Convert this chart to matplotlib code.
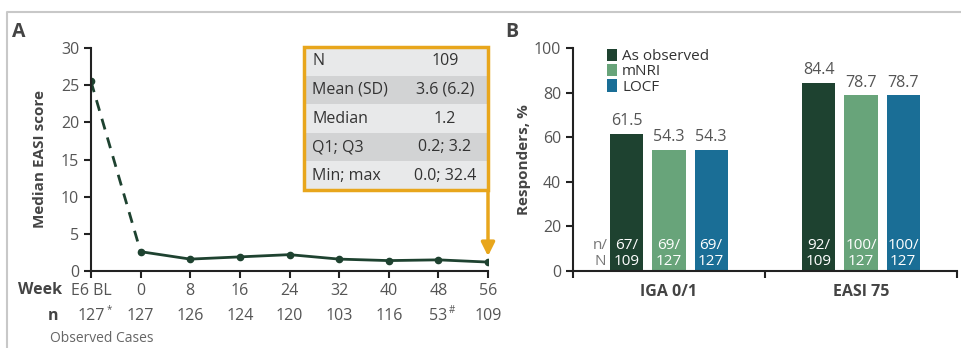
import matplotlib
matplotlib.use("Agg")
import matplotlib.pyplot as plt
from matplotlib.lines import Line2D
from matplotlib.patches import Rectangle
import numpy as np

plt.rcParams['font.family'] = ['Open Sans', 'DejaVu Sans']

# panel A data
weeks = ["E6 BL", "0", "8", "16", "24", "32", "40", "48", "56"]
n_obs = ["127", "127", "126", "124", "120", "103", "116", "53", "109"]
n_marks = ["*", "", "", "", "", "", "", "#", ""]
median_easi = [25.5, 2.6, 1.6, 1.9, 2.2, 1.6, 1.4, 1.5, 1.2]
stat_names = ["N", "Mean (SD)", "Median", "Q1; Q3", "Min; max"]
stat_vals = ["109", "3.6 (6.2)", "1.2", "0.2; 3.2", "0.0; 32.4"]

# panel B data
endpoints = ["IGA 0/1", "EASI 75"]
methods = ["As observed", "mNRI", "LOCF"]
responders = [[61.5, 54.3, 54.3], [84.4, 78.7, 78.7]]
n_resp = [["67", "69", "69"], ["92", "100", "100"]]
n_total = [["109", "127", "127"], ["109", "127", "127"]]

dark = "#1E4230"
cols = ["#1E4230", "#68A47A", "#1A6E96"]
orange = "#E8A61C"
gray = "#555555"
lab = "#444444"

fig = plt.figure(figsize=(9.62, 3.48), dpi=100)

# outer border
fig.add_artist(Line2D([7/962, 7/962, 1.0], [0.0, 1 - 12/348, 1 - 12/348],
                      transform=fig.transFigure, color="#C8C8C8", lw=1.5))

fig.text(12/962, 1 - 32/348, "A", fontsize=14, fontweight="bold", color=lab, va="center")
fig.text(505/962, 1 - 32/348, "B", fontsize=14, fontweight="bold", color=lab, va="center")

# ---- panel A
ax = fig.add_axes([91/962, 1 - 271/348, 397/962, 223/348])
x = np.arange(len(weeks))
ax.plot(x[:2], median_easi[:2], color=dark, lw=2, ls=(0, (4, 3)))
ax.plot(x[1:], median_easi[1:], color=dark, lw=2)
ax.plot(x, median_easi, "o", color=dark, ms=4.5)
ax.set_xlim(0, 8)
ax.set_ylim(0, 30)
ax.set_yticks(range(0, 31, 5))
ax.set_xticks(x)
ax.set_xticklabels(weeks)
for s in ["top", "right"]:
    ax.spines[s].set_visible(False)
for s in ["left", "bottom"]:
    ax.spines[s].set_linewidth(1.5)
    ax.spines[s].set_color("#222222")
ax.tick_params(labelsize=11.5, colors="#222222", labelcolor=gray, length=5, width=1.5)
ax.set_ylabel("Median EASI score", fontsize=11, fontweight="bold", color=lab)
ax.yaxis.set_label_coords(-0.11, 0.5)

trans = ax.get_xaxis_transform()
ax.text(-0.073, -0.085, "Week", transform=ax.transAxes, fontsize=11.5, fontweight="bold",
        color=lab, ha="right", va="center")
ax.text(-0.083, -0.2, "n", transform=ax.transAxes, fontsize=11.5, fontweight="bold",
        color=lab, ha="right", va="center")
for i, (nv, mk) in enumerate(zip(n_obs, n_marks)):
    ax.text(i, -0.2, nv, transform=trans, fontsize=11.5, color=gray, ha="center", va="center",
            clip_on=False)
    if mk:
        ax.annotate(mk, (i, -0.2), xycoords=trans, xytext=(len(nv) * 3.3 + 1, 4),
                    textcoords="offset points", fontsize=7, color=gray, ha="left", va="center")
fig.text(50/962, 1 - 338/348, "Observed Cases", fontsize=10, color="#666666", va="center")

# inset statistics box
bx0, bx1, by0, by1 = 304/962, 488/962, 1 - 190/348, 1 - 47/348
rh = (by1 - by0) / len(stat_names)
for i, (nm, vl) in enumerate(zip(stat_names, stat_vals)):
    yb = by1 - (i + 1) * rh
    fig.add_artist(Rectangle((bx0, yb), bx1 - bx0, rh, transform=fig.transFigure,
                             facecolor="#E8E9EA" if i % 2 == 0 else "#D2D3D4", edgecolor="none"))
    fig.text(bx0 + 8/962, yb + rh / 2, nm, fontsize=11.5, color="#333333", va="center")
    fig.text(445/962, yb + rh / 2, vl, fontsize=11.5, color="#333333", va="center", ha="center")
fig.add_artist(Rectangle((bx0, by0), bx1 - bx0, by1 - by0, transform=fig.transFigure,
                         facecolor="none", edgecolor=orange, lw=2.5))
ax.annotate("", xy=(8, median_easi[-1] + 0.8), xycoords="data",
            xytext=(bx1, by0), textcoords="figure fraction",
            arrowprops=dict(arrowstyle="-|>,head_length=0.8,head_width=0.4", color=orange,
                            lw=2.5, shrinkA=0, shrinkB=0))

# ---- panel B
bx = fig.add_axes([573/962, 1 - 271/348, 384/962, 223/348])
w = 0.172
off = 0.219
for j, m in enumerate(methods):
    xs = np.arange(len(endpoints)) + (j - 1) * off
    vals = [responders[g][j] for g in range(len(endpoints))]
    bx.bar(xs, vals, width=w, color=cols[j], label=m)
    for g in range(len(endpoints)):
        bx.text(xs[g], vals[g] + 2, f"{vals[g]:.1f}", ha="center", va="bottom",
                fontsize=11.5, color=gray)
        bx.text(xs[g], 1.0, f"{n_resp[g][j]}/\n{n_total[g][j]}", ha="center", va="bottom",
                fontsize=11, color="white", linespacing=1.1)
bx.text(-0.36, 1.0, "n/\nN", ha="center", va="bottom", fontsize=11, color="#777777",
        linespacing=1.1)
bx.set_xlim(-0.5, 1.5)
bx.set_ylim(0, 100)
bx.set_yticks(range(0, 101, 20))
bx.set_xticks([0, 1])
bx.set_xticklabels(endpoints, fontsize=11.5, fontweight="bold", color=lab)
bx.set_xticks([-0.5, 0.5, 1.5], minor=True)
bx.tick_params(axis="x", which="major", length=0, pad=9)
bx.tick_params(axis="x", which="minor", length=5, width=1.5, colors="#222222")
bx.tick_params(axis="y", labelsize=11.5, colors="#222222", labelcolor=gray, length=5, width=1.5)
for s in ["top", "right"]:
    bx.spines[s].set_visible(False)
for s in ["left", "bottom"]:
    bx.spines[s].set_linewidth(1.5)
    bx.spines[s].set_color("#222222")
bx.set_ylabel("Responders, %", fontsize=11, fontweight="bold", color=lab)
bx.yaxis.set_label_coords(-0.11, 0.5)
bx.legend(loc="upper left", bbox_to_anchor=(0.06, 1.045), frameon=False, fontsize=11,
          handlelength=0.7, handleheight=0.85, handletextpad=0.3, labelspacing=0.0,
          labelcolor="#333333", borderpad=0.2)

fig.savefig("out.png", dpi=100)
plt.close()
